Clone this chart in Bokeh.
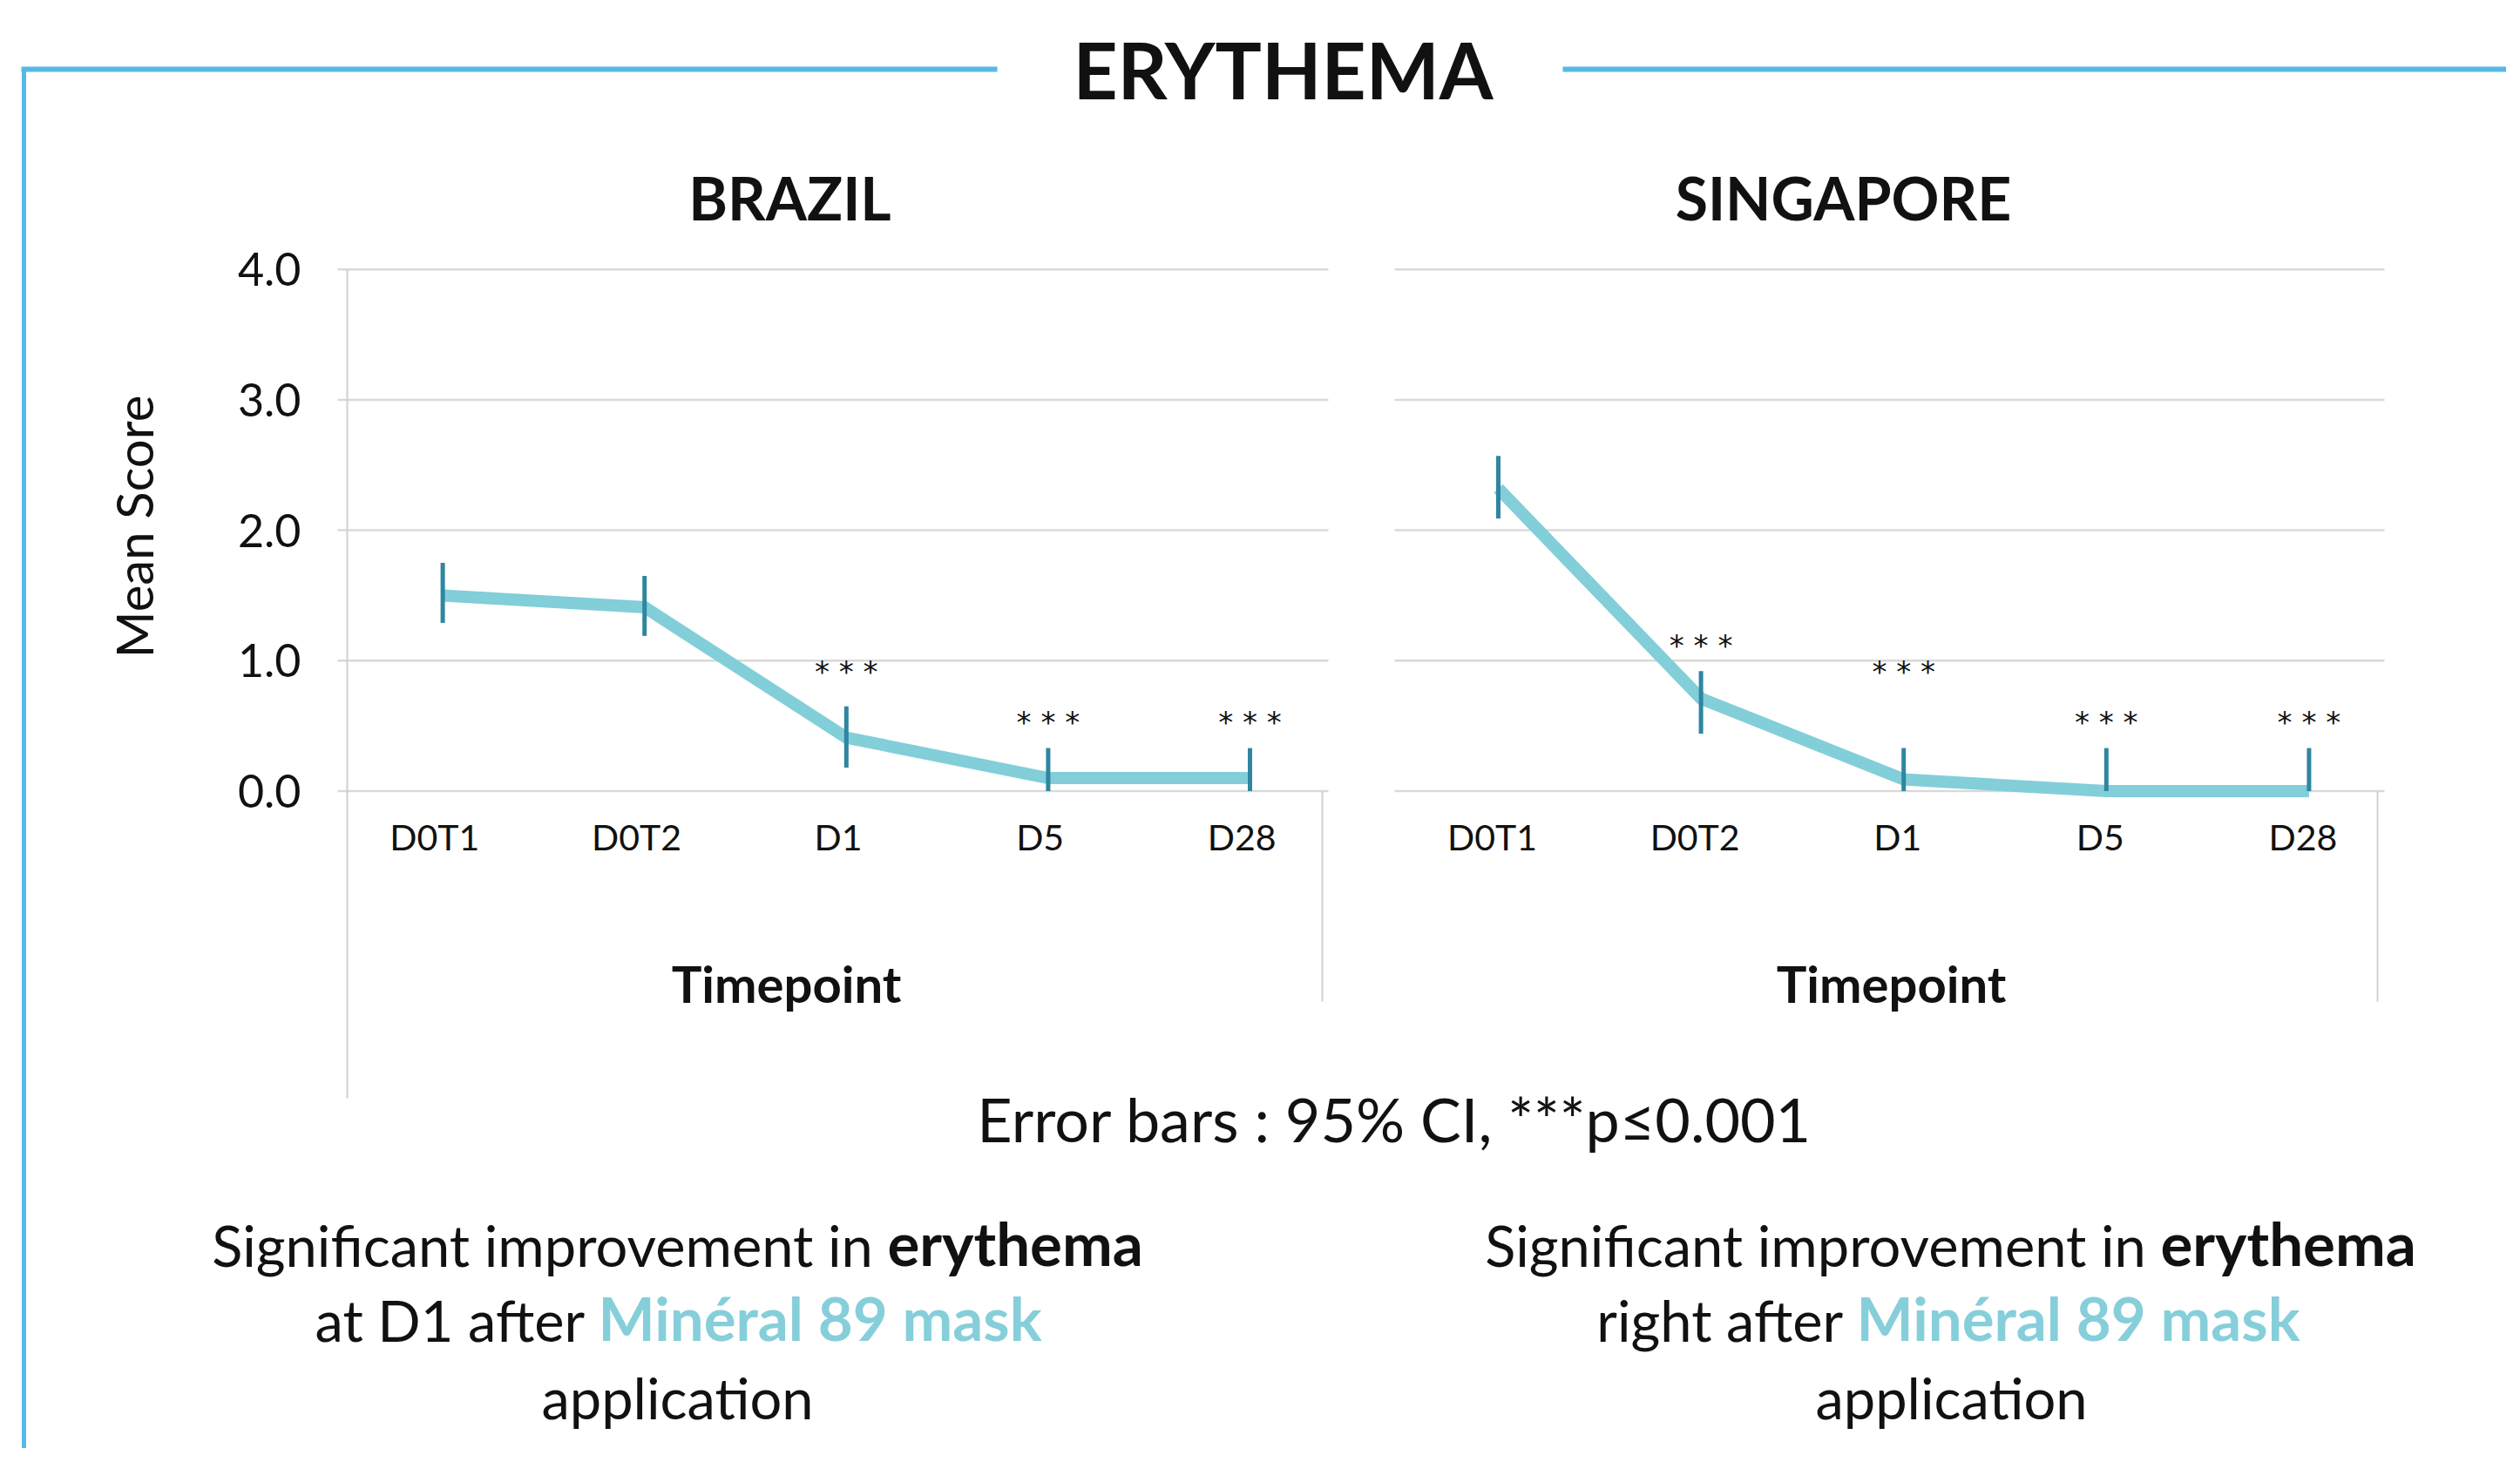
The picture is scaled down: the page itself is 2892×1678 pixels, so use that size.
from bokeh.plotting import figure
from bokeh.models import Range1d
from bokeh.core.properties import value
from bokeh.embed import file_html
from bokeh.resources import INLINE

# ---------------- data ----------------
timepoints = ["D0T1", "D0T2", "D1", "D5", "D28"]
y_ticks = [0, 1, 2, 3, 4]
y_tick_labels = ["0.0", "1.0", "2.0", "3.0", "4.0"]

brazil_mean = [1.50, 1.41, 0.41, 0.10, 0.10]
brazil_lower = [1.29, 1.19, 0.18, 0.00, 0.00]
brazil_upper = [1.75, 1.65, 0.65, 0.33, 0.33]
brazil_sig = [None, None, 0.97, 0.58, 0.58]

singapore_mean = [2.32, 0.71, 0.09, 0.00, 0.00]
singapore_lower = [2.09, 0.44, 0.00, 0.00, 0.00]
singapore_upper = [2.57, 0.92, 0.33, 0.33, 0.33]
singapore_sig = [None, 1.17, 0.97, 0.58, 0.58]

title = "ERYTHEMA"
panel_titles = ["BRAZIL", "SINGAPORE"]
y_label = "Mean Score"
x_label = "Timepoint"
footnote = "Error bars : 95% CI, ***p\u22640.001"
sig_mark = "* * *"

left_lines = [
    [("Significant improvement in ", "normal", "#111111"), ("erythema", "bold", "#111111")],
    [("at D1 after ", "normal", "#111111"), ("Min\u00e9ral 89 mask", "bold", "#86CFDA")],
    [("application", "normal", "#111111")],
]
right_lines = [
    [("Significant improvement in ", "normal", "#111111"), ("erythema", "bold", "#111111")],
    [("right after ", "normal", "#111111"), ("Min\u00e9ral 89 mask", "bold", "#86CFDA")],
    [("application", "normal", "#111111")],
]

# ---------------- layout ----------------
W, H = 2876, 1662
SH = 8  # page margin shift
FONT = value("Lato")
BORDER = "#56B9E5"
GRID = "#D9D9D9"
LINE_C = "#82CED9"
ERR_C = "#2E86A0"
INK = "#111111"

p = figure(width=W, height=H, x_range=Range1d(-SH, W - SH), y_range=Range1d(H - SH, -SH),
           output_backend="svg", toolbar_location=None, min_border=0,
           x_axis_location=None, y_axis_location=None)
p.grid.visible = False
p.outline_line_color = None
p.background_fill_color = "white"
p.border_fill_color = "white"

# value axis mapping (shared by both panels): value 0 at px 899.5, 4 at px 300.7
Y0, KY = 899.5, 149.7
p.extra_y_ranges = {"val": Range1d(start=(Y0 + SH - H) / KY, end=(Y0 + SH) / KY)}


def xr(x0, step):
    s = -(x0 + SH) / step
    return Range1d(start=s, end=s + W / step)


p.extra_x_ranges = {"bx": xr(499.6, 231.6), "sx": xr(1711.0, 232.6)}

idx = list(range(len(timepoints)))


def off(size):
    # correction so that the requested y is the visual alphabetic baseline
    return -round(0.43 * size)


def txt(x, y, t, size, style="normal", align="center", color=INK, **kw):
    p.text(x=x, y=y, text=t, text_font=FONT, text_font_style=style, text_font_size=f"{size}px",
           text_align=align, text_baseline="alphabetic", text_color=color, y_offset=off(size), **kw)


# border decoration
p.segment(x0=[16, 1785], x1=[1136, W], y0=[71, 71], y1=[71, 71], line_color=BORDER, line_width=6)
p.segment(x0=[19], x1=[19], y0=[69], y1=[H], line_color=BORDER, line_width=5)

txt([1464], [109], [title], 89, style="bold")

panels = [
    dict(xr="bx", title=panel_titles[0], tx=898, lx=894, gx=(379, 1516), axis_x=390, right_x=1509,
         mean=brazil_mean, lo=brazil_lower, hi=brazil_upper, sig=brazil_sig, lab_dx=-0.04),
    dict(xr="sx", title=panel_titles[1], tx=2107, lx=2162, gx=(1592, 2728), axis_x=None, right_x=2720,
         mean=singapore_mean, lo=singapore_lower, hi=singapore_upper, sig=singapore_sig, lab_dx=-0.03),
]

for pn in panels:
    # gridlines
    p.segment(x0=[pn["gx"][0]] * len(y_ticks), x1=[pn["gx"][1]] * len(y_ticks),
              y0=y_ticks, y1=y_ticks, y_range_name="val", line_color=GRID, line_width=2.5)
    # frame lines
    if pn["axis_x"] is not None:
        p.segment(x0=[pn["axis_x"]], x1=[pn["axis_x"]], y0=[y_ticks[-1]], y1=[(Y0 - 1252) / KY],
                  y_range_name="val", line_color="#D0D0D0", line_width=2)
    p.segment(x0=[pn["right_x"]], x1=[pn["right_x"]], y0=[0], y1=[(Y0 - 1141) / KY],
              y_range_name="val", line_color="#D0D0D0", line_width=2)
    # panel title
    txt([pn["tx"]], [247], [pn["title"]], 68, style="bold")
    # series line
    p.line(x=idx, y=pn["mean"], x_range_name=pn["xr"], y_range_name="val",
           line_color=LINE_C, line_width=14, line_join="miter", line_cap="butt")
    # error bars
    p.segment(x0=idx, x1=idx, y0=pn["lo"], y1=pn["hi"], x_range_name=pn["xr"], y_range_name="val",
              line_color=ERR_C, line_width=5)
    # significance marks
    sx = [i for i, s in zip(idx, pn["sig"]) if s is not None]
    sy = [s for s in pn["sig"] if s is not None]
    p.text(x=sx, y=sy, text=[sig_mark] * len(sx), x_range_name=pn["xr"], y_range_name="val",
           text_font=value("DejaVu Sans"), text_font_size="34px", text_align="center",
           text_baseline="middle", text_color=INK, y_offset=8)
    # x tick labels
    txt([i + pn["lab_dx"] for i in idx], [970] * len(idx), timepoints, 41, x_range_name=pn["xr"])
    # x axis title
    txt([pn["lx"]], [1145], [x_label], 58, style="bold")

# y tick labels and y label
p.text(x=[337] * len(y_ticks), y=y_ticks, text=y_tick_labels, y_range_name="val",
       text_font=FONT, text_font_size="52px", text_align="right", text_baseline="middle",
       text_color=INK)
p.text(x=[145], y=[596], text=[y_label], text_font=FONT, text_font_size="58px", angle=1.5708,
       text_align="center", text_baseline="middle", text_color=INK)

# footnote
txt([1592], [1305], [footnote], 70)


# bottom statements
def draw_block(lines, splits, baselines, size=65, bold_size=69):
    for parts, sx, by in zip(lines, splits, baselines):
        if len(parts) == 1:
            t, st, c = parts[0]
            txt([sx], [by], [t], size, style=st, color=c)
        else:
            (t1, s1, c1), (t2, s2, c2) = parts
            txt([sx], [by], [t1.rstrip() + "\u00a0"], size, style=s1, align="right", color=c1)
            p.text(x=[sx], y=[by], text=[t2], text_font=FONT, text_font_style=s2,
                   text_font_size=f"{bold_size}px", text_align="left", text_baseline="alphabetic",
                   text_color=c2, y_offset=off(bold_size))


draw_block(left_lines, [1010, 678, 769], [1448, 1534, 1623])
draw_block(right_lines, [2471, 2122, 2231], [1448, 1534, 1623])

open("out.html", "w").write(file_html(p, INLINE))
